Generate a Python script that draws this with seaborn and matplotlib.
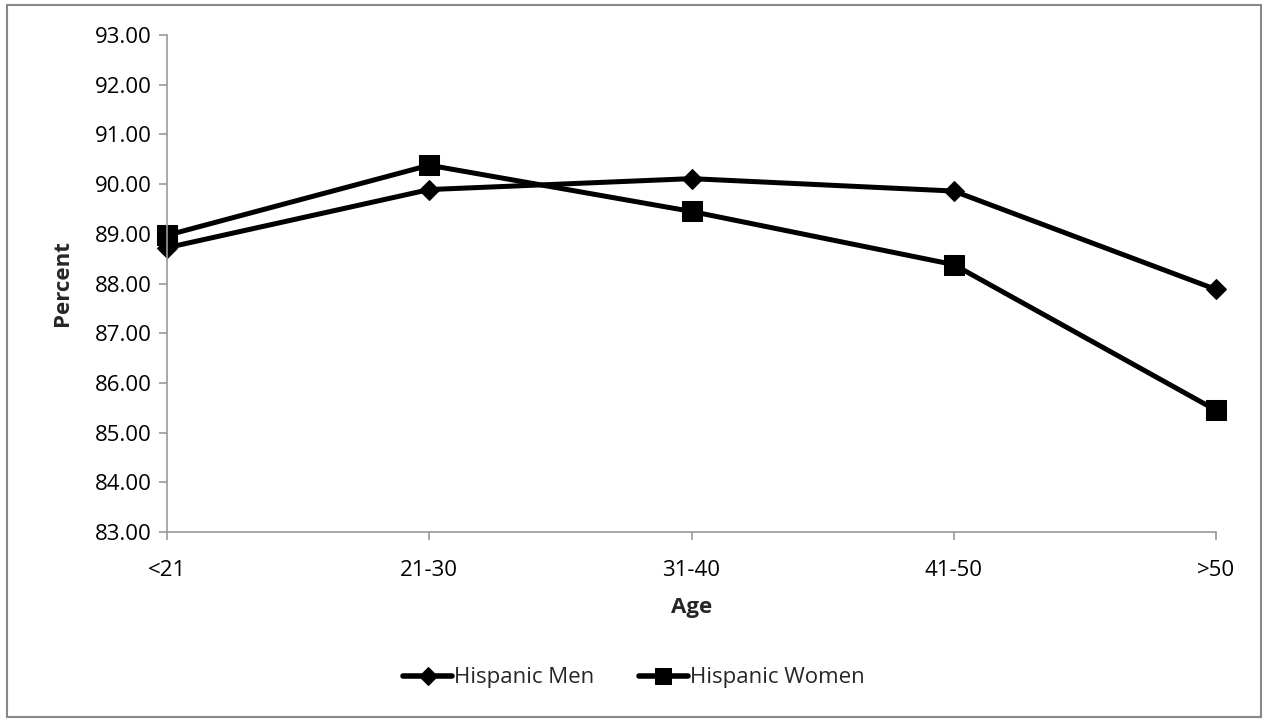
import pandas as pd
import matplotlib
matplotlib.use("Agg")
import matplotlib.pyplot as plt
import seaborn as sns
from matplotlib.patches import Rectangle

# values
age_groups = ["<21", "21-30", "31-40", "41-50", ">50"]
men_pct = [88.72, 89.89, 90.11, 89.86, 87.88]
women_pct = [88.97, 90.38, 89.45, 88.38, 85.45]
y_ticks = [83, 84, 85, 86, 87, 88, 89, 90, 91, 92, 93]

df = pd.concat([
    pd.DataFrame({"Age": age_groups, "Percent": men_pct, "Group": "Hispanic Men"}),
    pd.DataFrame({"Age": age_groups, "Percent": women_pct, "Group": "Hispanic Women"}),
])

sns.set_style("white")
plt.rcParams["font.family"] = ["Open Sans", "DejaVu Sans"]

fig = plt.figure(figsize=(12.68, 7.22), dpi=100)
ax = fig.add_axes([167 / 1268, 1 - 532 / 722, (1216 - 167) / 1268, (532 - 35) / 722])

sns.lineplot(
    data=df, x="Age", y="Percent", hue="Group", style="Group",
    markers={"Hispanic Men": "D", "Hispanic Women": "s"}, dashes=False,
    palette=["black", "black"], linewidth=3.6, sort=False, ax=ax,
    markeredgecolor="black",
)
# marker sizes differ per series
for line, ms in zip(ax.lines[:2], [10, 14.5]):
    line.set_markersize(ms)
    line.set_clip_on(False)

ax.set_xlim(0, len(age_groups) - 1)
ax.set_ylim(83, 93)
ax.set_yticks(y_ticks)
ax.set_yticklabels([f"{v:.2f}" for v in y_ticks])
ax.set_xticks(range(len(age_groups)))
ax.set_xticklabels(age_groups)

grey = "#999999"
for side in ["top", "right"]:
    ax.spines[side].set_visible(False)
for side in ["left", "bottom"]:
    ax.spines[side].set_color(grey)
    ax.spines[side].set_linewidth(1.2)
ax.tick_params(axis="both", direction="out", length=6, width=1.2, color=grey,
               labelsize=16, labelcolor="black", left=True, bottom=True, pad=5)
ax.tick_params(axis="x", pad=14)

ax.set_xlabel("Age", fontsize=16, fontweight="bold", labelpad=12)
ax.set_ylabel("Percent", fontsize=16, fontweight="bold", labelpad=16)

handles, labels = ax.get_legend_handles_labels()
ax.get_legend().remove()
for h, ms in zip(handles, [9, 12]):
    h.set_markersize(ms)
    h.set_linewidth(4)
fig.legend(handles, labels, loc="center", bbox_to_anchor=(0.5, 1 - 678 / 722),
           ncol=2, frameon=False, fontsize=16, handlelength=2.2,
           handletextpad=0.1, columnspacing=2.0)

fig.patches.append(Rectangle((7 / 1268, 1 - 717 / 722), 1254 / 1268, 712 / 722,
                             transform=fig.transFigure, fill=False,
                             edgecolor="#888888", linewidth=1.5))

fig.savefig("out.png", dpi=100)
